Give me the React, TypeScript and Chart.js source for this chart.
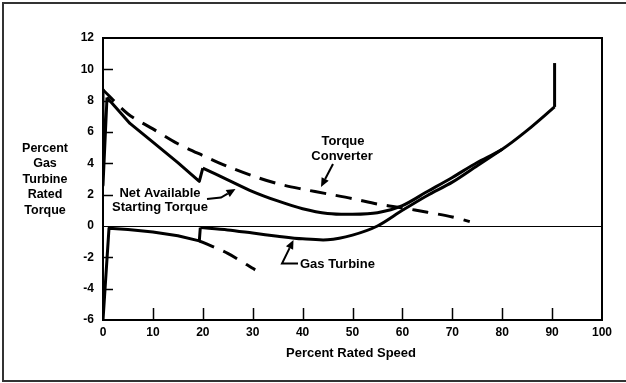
import React, { useEffect, useRef } from "react";
import { Chart, registerables } from "chart.js";
Chart.register(...registerables);

// Torque converter (dashed)
const tcSpeed = [0, 5, 10, 15, 20, 25, 30, 35, 40, 45, 50, 55, 60, 65, 70, 73.5];
const tcTorque = [8.7, 7.15, 6.2, 5.25, 4.5, 3.8, 3.2, 2.7, 2.35, 2.05, 1.75, 1.4, 1.15, 0.88, 0.58, 0.28];

// Net available starting torque (solid)
const netStartSpeed = [0, 0, 0.8];
const netStartTorque = [8.7, 2.6, 8.2];
const netASpeed = [0.8, 5.4, 10, 15, 19.3, 20];
const netATorque = [8.2, 6.55, 5.35, 4.05, 2.85, 3.7];
const netBSpeed = [20, 25, 30, 35, 40, 45, 50, 55, 60, 65, 70, 75, 80, 85, 90.5];
const netBTorque = [3.7, 2.95, 2.2, 1.6, 1.1, 0.8, 0.75, 0.85, 1.3, 2.2, 3.1, 4.05, 4.9, 6.1, 7.6];
const spikeSpeed = [90.5, 90.5];
const spikeTorque = [7.6, 10.4];

// Gas turbine (solid) and its dashed continuation
const gtASpeed = [0, 1.2, 5, 10, 15, 19.3, 19.5];
const gtATorque = [-6, -0.15, -0.22, -0.38, -0.62, -0.95, -0.1];
const gtBSpeed = [19.5, 25, 30, 35, 40, 45, 50, 55, 60, 65, 70, 75, 80];
const gtBTorque = [-0.1, -0.25, -0.45, -0.65, -0.82, -0.88, -0.58, 0.0, 1.0, 1.95, 2.8, 3.85, 4.9];
const gtDashSpeed = [19.3, 25, 30.5];
const gtDashTorque = [-0.95, -1.75, -2.8];

const xTickValues = [10, 20, 30, 40, 50, 60, 70, 80, 90];
const yTickValues = [-4, -2, 2, 4, 6, 8, 10];
const yTitleLines = ["Percent", "Gas", "Turbine", "Rated", "Torque"];

const FAMILY = "'Liberation Sans', Arial, sans-serif";
const FONT = `bold 13px ${FAMILY}`;
const YFONT = `bold 12.5px ${FAMILY}`;

function pts(xs: number[], ys: number[]) {
  return xs.map((x, i) => ({ x, y: ys[i] }));
}

function line(xs: number[], ys: number[], tension: number, dashed = false) {
  return {
    data: pts(xs, ys),
    borderColor: "#000",
    borderWidth: 3,
    pointRadius: 0,
    showLine: true,
    tension,
    fill: false,
    borderDash: dashed ? [16, 10] : [],
    borderCapStyle: "butt" as const,
    borderJoinStyle: "round" as const,
  };
}

function arrow(ctx: CanvasRenderingContext2D, p: number[][]) {
  ctx.save();
  ctx.strokeStyle = "#000";
  ctx.fillStyle = "#000";
  ctx.lineWidth = 2;
  const n = p.length;
  const [tx, ty] = p[n - 1];
  const [fx, fy] = p[n - 2];
  const ang = Math.atan2(ty - fy, tx - fx);
  const L = 9, W = 4;
  const bx = tx - L * Math.cos(ang), by = ty - L * Math.sin(ang);
  ctx.beginPath();
  ctx.moveTo(p[0][0], p[0][1]);
  for (let i = 1; i < n - 1; i++) ctx.lineTo(p[i][0], p[i][1]);
  ctx.lineTo(bx, by);
  ctx.stroke();
  ctx.beginPath();
  ctx.moveTo(tx, ty);
  ctx.lineTo(bx + W * Math.sin(ang), by - W * Math.cos(ang));
  ctx.lineTo(bx - W * Math.sin(ang), by + W * Math.cos(ang));
  ctx.closePath();
  ctx.fill();
  ctx.restore();
}

const deco = {
  id: "deco",
  beforeDatasetsDraw(chart: any) {
    const { ctx, chartArea: a, scales } = chart;
    const y0 = scales.y.getPixelForValue(0);
    ctx.save();
    ctx.strokeStyle = "#000";
    ctx.lineWidth = 1;
    ctx.beginPath();
    ctx.moveTo(a.left, y0 + 0.5);
    ctx.lineTo(a.right, y0 + 0.5);
    ctx.stroke();
    ctx.restore();
  },
  afterDatasetsDraw(chart: any) {
    const { ctx, chartArea: a, scales } = chart;
    ctx.save();
    ctx.strokeStyle = "#000";
    ctx.lineWidth = 2;
    ctx.strokeRect(a.left, a.top, a.right - a.left, a.bottom - a.top);
    ctx.lineWidth = 1.5;
    ctx.beginPath();
    xTickValues.forEach((v) => {
      const x = Math.round(scales.x.getPixelForValue(v)) + 0.5;
      ctx.moveTo(x, a.bottom);
      ctx.lineTo(x, a.bottom - 12);
    });
    yTickValues.forEach((v) => {
      const y = Math.round(scales.y.getPixelForValue(v)) + 0.5;
      ctx.moveTo(a.left, y);
      ctx.lineTo(a.left + 10, y);
    });
    ctx.stroke();
    ctx.strokeStyle = "#333";
    ctx.lineWidth = 2;
    ctx.beginPath();
    ctx.moveTo(640, 3);
    ctx.lineTo(3, 3);
    ctx.lineTo(3, 381);
    ctx.lineTo(640, 381);
    ctx.stroke();

    ctx.fillStyle = "#000";
    ctx.textBaseline = "middle";
    ctx.textAlign = "center";
    ctx.font = YFONT;
    yTitleLines.forEach((t, i) => ctx.fillText(t, 45, 148.5 + i * 15.5));
    ctx.font = FONT;
    ctx.fillText("Percent Rated Speed", 351, 353);
    ctx.fillText("Torque", 343, 141.5);
    ctx.fillText("Converter", 342, 156.5);
    ctx.fillText("Net Available", 160, 193);
    ctx.fillText("Starting Torque", 160, 207);
    ctx.textAlign = "left";
    ctx.fillText("Gas Turbine", 300, 264.5);
    ctx.restore();

    arrow(ctx, [[333, 164], [321, 187]]);
    arrow(ctx, [[207, 199], [221, 197.5], [235.5, 189]]);
    arrow(ctx, [[298, 263.5], [282, 263.5], [293.5, 240]]);
  },
};

export default function App() {
  const ref = useRef<HTMLCanvasElement>(null);
  useEffect(() => {
    document.body.style.margin = "0";
    const canvas = ref.current!;
    const tickFont = { family: FAMILY, size: 12, weight: "bold" as const };
    const chart = new Chart(canvas, {
      type: "scatter",
      data: {
        datasets: [
          line(tcSpeed, tcTorque, 0.3, true),
          line(netStartSpeed, netStartTorque, 0),
          line(netASpeed, netATorque, 0),
          line(netBSpeed, netBTorque, 0.3),
          line(spikeSpeed, spikeTorque, 0),
          line(gtASpeed, gtATorque, 0),
          line(gtBSpeed, gtBTorque, 0.3),
          line(gtDashSpeed, gtDashTorque, 0.3, true),
        ] as any,
      },
      options: {
        responsive: false,
        animation: false,
        devicePixelRatio: 1,
        layout: { padding: { left: 0, right: 24, top: 38, bottom: 0 } },
        plugins: { legend: { display: false }, tooltip: { enabled: false } },
        scales: {
          x: {
            type: "linear",
            min: 0,
            max: 100,
            afterFit: (s: any) => { s.height = 63; },
            grid: { display: false, drawTicks: false },
            border: { display: false },
            ticks: { stepSize: 10, color: "#000", font: tickFont, padding: 5, maxRotation: 0 },
          },
          y: {
            type: "linear",
            min: -6,
            max: 12,
            afterFit: (s: any) => { s.width = 103; },
            grid: { display: false, drawTicks: false },
            border: { display: false },
            ticks: { stepSize: 2, color: "#000", font: tickFont, padding: 9 },
          },
        },
      },
      plugins: [deco],
    });
    return () => chart.destroy();
  }, []);
  return (
    <canvas
      ref={ref}
      width={626}
      height={383}
      style={{ display: "block", width: 626, height: 383 }}
    />
  );
}
